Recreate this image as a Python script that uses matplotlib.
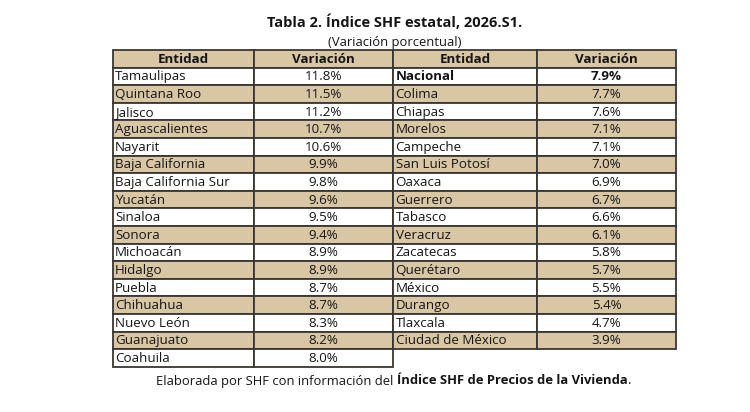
import matplotlib
matplotlib.use("Agg")
import matplotlib.pyplot as plt
from matplotlib.patches import Rectangle

plt.rcParams['font.family'] = ['Open Sans', 'DejaVu Sans']

# table data
headers = ["Entidad", "Variación", "Entidad", "Variación"]
left_states = ["Tamaulipas", "Quintana Roo", "Jalisco", "Aguascalientes", "Nayarit",
               "Baja California", "Baja California Sur", "Yucatán", "Sinaloa", "Sonora",
               "Michoacán", "Hidalgo", "Puebla", "Chihuahua", "Nuevo León",
               "Guanajuato", "Coahuila"]
left_values = [11.8, 11.5, 11.2, 10.7, 10.6, 9.9, 9.8, 9.6, 9.5, 9.4,
               8.9, 8.9, 8.7, 8.7, 8.3, 8.2, 8.0]
right_states = ["Nacional", "Colima", "Chiapas", "Morelos", "Campeche",
                "San Luis Potosí", "Oaxaca", "Guerrero", "Tabasco", "Veracruz",
                "Zacatecas", "Querétaro", "México", "Durango", "Tlaxcala",
                "Ciudad de México"]
right_values = [7.9, 7.7, 7.6, 7.1, 7.1, 7.0, 6.9, 6.7, 6.6, 6.1,
                5.8, 5.7, 5.5, 5.4, 4.7, 3.9]

title = "Tabla 2. Índice SHF estatal, 2026.S1."
subtitle = "(Variación porcentual)"
footer_plain = "Elaborada por SHF con información del "
footer_bold = "Índice SHF de Precios de la Vivienda"

TAN = "#d8c6a5"
EDGE = "#3a3632"
TXT = "#161616"

fig = plt.figure(figsize=(7.5, 4.12), dpi=100)
ax = fig.add_axes([0, 0, 1, 1])
ax.set_xlim(0, 750)
ax.set_ylim(412, 0)
ax.axis("off")

col_x = [112.5, 254, 393, 537, 676]
top = 50
row_h = 17.6
fs = 9.6


def cell(x0, x1, y0, fill):
    ax.add_patch(Rectangle((x0, y0), x1 - x0, row_h, facecolor=fill,
                           edgecolor=EDGE, linewidth=1.3))


# header
for i, h in enumerate(headers):
    cell(col_x[i], col_x[i + 1], top, TAN)
    ax.text((col_x[i] + col_x[i + 1]) / 2, top + row_h / 2 + 0.5, h,
            ha="center", va="center", fontsize=fs, fontweight="bold", color=TXT)


def column_block(states, values, c):
    for r, (s, v) in enumerate(zip(states, values)):
        y0 = top + row_h * (r + 1)
        fill = TAN if r % 2 == 1 else "white"
        cell(col_x[c], col_x[c + 1], y0, fill)
        cell(col_x[c + 1], col_x[c + 2], y0, fill)
        w = "bold" if s == "Nacional" else "normal"
        ax.text(col_x[c] + 2.5, y0 + row_h / 2 + 0.5, s, ha="left", va="center",
                fontsize=fs, fontweight=w, color=TXT)
        ax.text((col_x[c + 1] + col_x[c + 2]) / 2, y0 + row_h / 2 + 0.5,
                f"{v:.1f}%", ha="center", va="center", fontsize=fs,
                fontweight=w, color=TXT)


column_block(left_states, left_values, 0)
column_block(right_states, right_values, 2)

ax.text(394.5, 22, title, ha="center", va="center", fontsize=10.5,
        fontweight="bold", color=TXT)
ax.text(394.5, 42, subtitle, ha="center", va="center", fontsize=9.4, color=TXT)

# footer with mixed weights, centred as a whole
renderer = fig.canvas.get_renderer()
fs_f = 9.4
t1 = ax.text(0, 381, footer_plain, ha="left", va="center", fontsize=fs_f, color=TXT)
t2 = ax.text(0, 381, footer_bold, ha="left", va="center", fontsize=fs_f,
             fontweight="bold", color=TXT)
t3 = ax.text(0, 381, ".", ha="left", va="center", fontsize=fs_f, color=TXT)
w1 = t1.get_window_extent(renderer).width
w2 = t2.get_window_extent(renderer).width
w3 = t3.get_window_extent(renderer).width
start = 394 - (w1 + w2 + w3) / 2
t1.set_x(start)
t2.set_x(start + w1)
t3.set_x(start + w1 + w2)

fig.savefig("out.png", dpi=100, facecolor="white")
